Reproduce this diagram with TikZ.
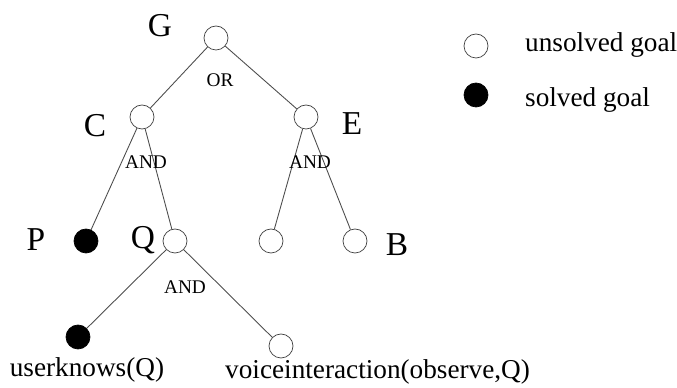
\documentclass[tikz,border=0pt]{standalone}
\usepackage{fontspec}
\setmainfont{Liberation Serif}
\begin{document}
\begin{tikzpicture}[x=0.02cm, y=-0.02cm,
    goal/.style={circle, draw=black!75, fill=white, minimum size=0.48cm, inner sep=0pt},
    solved/.style={goal, fill=black, draw=black},
    arc/.style={draw=black!70, line width=0.5pt},
    letter/.style={font=\fontsize{19}{19}\selectfont},
    txt/.style={font=\fontsize{15.5}{15.5}\selectfont},
    conn/.style={font=\fontsize{11}{11}\selectfont, inner sep=0pt}]
    % Marco de la figura (tamaño de la imagen en píxeles)
    \useasboundingbox (0,0) rectangle (677,388);

    % Nodos del árbol
    \node[goal]   (g)  at (216,38)  {};
    \node[goal]   (c)  at (142,117) {};
    \node[goal]   (e)  at (306,117) {};
    \node[solved] (p)  at (86,241)  {};
    \node[goal]   (q)  at (175,241) {};
    \node[goal]   (e1) at (271,241) {};
    \node[goal]   (b)  at (355,241) {};
    \node[solved] (uk) at (78,337)  {};
    \node[goal]   (vi) at (281,346) {};

    % Aristas
    \draw[arc] (g) -- (c);
    \draw[arc] (g) -- (e);
    \draw[arc] (c) -- (p);
    \draw[arc] (c) -- (q);
    \draw[arc] (e) -- (e1);
    \draw[arc] (e) -- (b);
    \draw[arc] (q) -- (uk);
    \draw[arc] (q) -- (vi);

    % Conectores OR / AND
    \node[conn] (or)   at (220,80)  {OR};
    \node[conn] (andc) at (146,162) {AND};
    \node[conn] (ande) at (310,162) {AND};
    \node[conn] (andq) at (185,287) {AND};

    % Etiquetas de los nodos
    \node[letter] (lg) at (160,26)  {G};
    \node[letter] (lc) at (95,126)  {C};
    \node[letter] (le) at (352,124) {E};
    \node[letter] (lp) at (36,240)  {P};
    \node[letter] (lq) at (143,240) {Q};
    \node[letter] (lb) at (397,245) {B};
    \node[txt]    (luk) at (87,370) {userknows(Q)};
    \node[txt, anchor=west] (lvi) at (219,372) {voiceinteraction(observe,Q)};

    % Leyenda
    \node[goal]   (k1) at (476,46) {};
    \node[solved] (k2) at (476,95) {};
    \node[txt, anchor=west] (t1) at (519,45)  {unsolved goal};
    \node[txt, anchor=west] (t2) at (519,100) {solved goal};
\end{tikzpicture}
\end{document}
